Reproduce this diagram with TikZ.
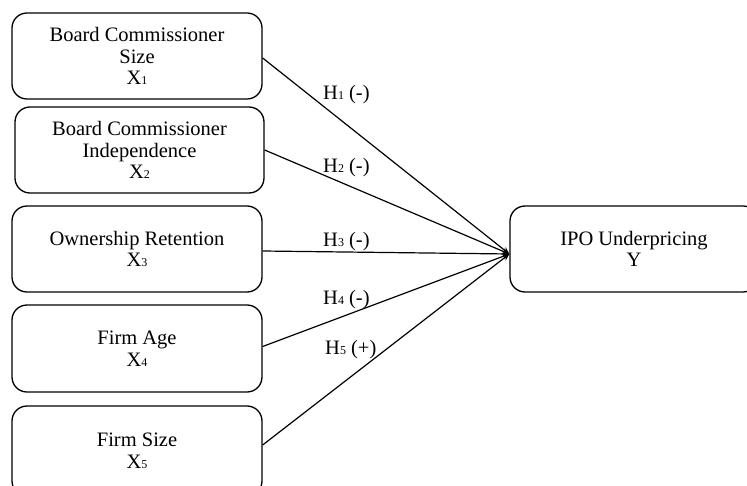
\documentclass[tikz,border=0pt]{standalone}
\usepackage{fontspec}
\setmainfont{Liberation Serif}
\usetikzlibrary{arrows.meta}
\newcommand{\sbs}[1]{{\fontsize{12}{12}\selectfont #1}}
\begin{document}
\begin{tikzpicture}[x=1pt,y=-1pt,
  box/.style={draw, line width=1.3pt, rounded corners=15pt, align=center, inner sep=0pt,
    font=\fontsize{20.5}{21.5}\selectfont},
  link/.style={line width=1.2pt, -{Stealth[length=7pt,width=6pt]}},
  hyp/.style={anchor=west, inner sep=0pt, font=\fontsize{20.5}{21.5}\selectfont}]
\useasboundingbox (0,0) rectangle (747,486);
\node[box, minimum width=250pt, minimum height=86pt] (b1) at (137,56) {Board Commissioner\\Size\\X\sbs{1}};
\node[box, minimum width=249pt, minimum height=86pt] (b2) at (139.5,150) {Board Commissioner\\Independence\\X\sbs{2}};
\node[box, minimum width=250pt, minimum height=86pt] (b3) at (137,249) {Ownership Retention\\X\sbs{3}};
\node[box, minimum width=250pt, minimum height=87pt] (b4) at (137,348.5) {Firm Age\\X\sbs{4}};
\node[box, minimum width=250pt, minimum height=90pt] (b5) at (137,451) {Firm Size\\X\sbs{5}};
\node[box, minimum width=248pt, minimum height=86pt] (y) at (634,249) {IPO Underpricing\\Y};
\coordinate (tip) at ([yshift=-5pt]y.west);
\draw[link] ([yshift=-2pt]b1.east) -- (tip);
\draw[link] (b2.east) -- (tip);
\draw[link] ([yshift=-2pt]b3.east) -- (tip);
\draw[link] ([yshift=2pt]b4.east) -- (tip);
\draw[link] ([yshift=6pt]b5.east) -- (tip);
\node[hyp] (h1) at (323,95) {H\sbs{1} (-)};
\node[hyp] (h2) at (323,168) {H\sbs{2} (-)};
\node[hyp] (h3) at (323,242) {H\sbs{3} (-)};
\node[hyp] (h4) at (323,300) {H\sbs{4} (-)};
\node[hyp] (h5) at (325,350) {H\sbs{5} (+)};
\end{tikzpicture}
\end{document}
